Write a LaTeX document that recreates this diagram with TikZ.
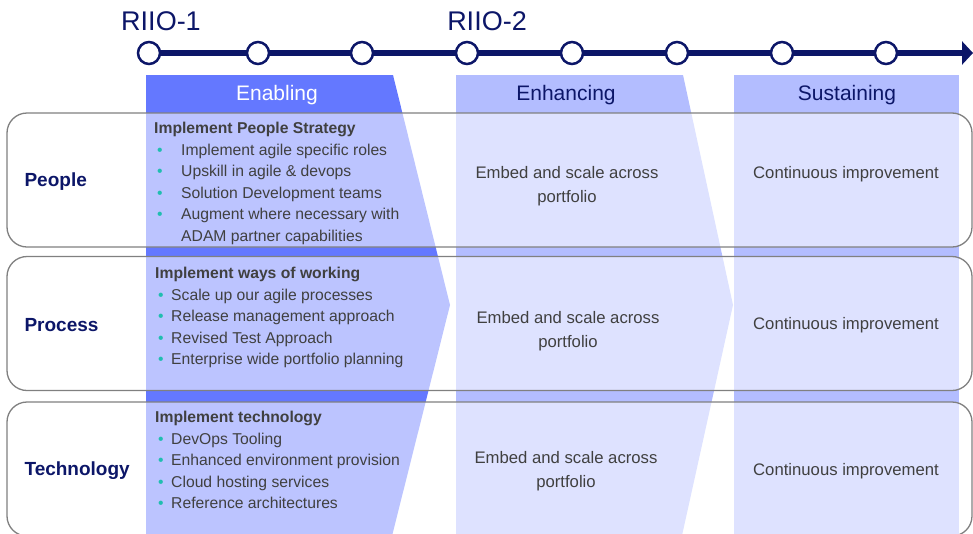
\documentclass[tikz,border=0pt]{standalone}
\usepackage{fontspec}
\setmainfont{Liberation Sans}
\usetikzlibrary{positioning,arrows.meta}

\definecolor{navy}{RGB}{12,22,104}
\definecolor{bandstrong}{RGB}{100,120,255}
\definecolor{bandsoft}{RGB}{179,189,255}
\definecolor{bodygrey}{RGB}{64,64,64}
\definecolor{rowline}{RGB}{128,128,128}
\definecolor{dotteal}{RGB}{32,190,176}

\newcommand{\dotitem}[1]{\makebox[#1][l]{{\color{dotteal}\textbullet}}}

\begin{document}
\begin{tikzpicture}[
        x=1pt, y=-1pt,
        tick/.style={
            circle,
            draw=navy,
            line width=2.5pt,
            fill=white,
            minimum size=22pt,
            inner sep=0pt
        },
        timeline/.style={
            line width=6pt,
            navy,
            -{Triangle[length=11pt, width=23pt]}
        },
        riio/.style={font=\fontsize{27}{30}\selectfont, text=navy},
        phase/.style={font=\fontsize{21}{24}\selectfont},
        rowbox/.style={
            rectangle,
            rounded corners=20pt,
            draw=rowline,
            line width=1.3pt,
            fill=white,
            fill opacity=0.57,
            minimum width=965pt,
            minimum height=134pt,
            inner sep=0pt
        },
        rowlabel/.style={
            font=\fontsize{19}{22}\selectfont\bfseries,
            text=navy,
            anchor=west,
            inner sep=0pt
        },
        plan/.style={
            font=\fontsize{15.7}{21.6}\selectfont,
            text=bodygrey,
            align=left,
            anchor=north west,
            inner sep=0pt
        },
        cell/.style={
            font=\fontsize{16.7}{24}\selectfont,
            text=bodygrey,
            align=center
        },
    ]

        \useasboundingbox (0,0) rectangle (973,533);

        % phase bands
        \fill[bandstrong] (146,75) -- (393,75) -- (450,305) -- (391,540) -- (146,540) -- cycle;
        \fill[bandsoft] (456,75) -- (683,75) -- (733,305) -- (681,540) -- (456,540) -- cycle;
        \fill[bandsoft] (734,75) rectangle (959,540);

        \node[phase, text=white] (enabling) at (277,95) {Enabling};
        \node[phase, text=navy] (enhancing) at (566,95) {Enhancing};
        \node[phase, text=navy] (sustaining) at (847,95) {Sustaining};

        % rows
        \node[rowbox] (people) at (489.5,180) {};
        \node[rowbox] (process) at (489.5,323.5) {};
        \node[rowbox] (technology) at (489.5,469) {};

        \node[rowlabel] at ([xshift=18pt,yshift=-2pt]people.west) {People};
        \node[rowlabel] at ([xshift=18pt,yshift=-2pt]process.west) {Process};
        \node[rowlabel] at ([xshift=18pt,yshift=-2pt]technology.west) {Technology};

        % enabling
        \node[plan] (peopleplan) at (154,122) {%
            \textbf{Implement People Strategy}\\
            \hspace*{3pt}\dotitem{24pt}Implement agile specific roles\\
            \hspace*{3pt}\dotitem{24pt}Upskill in agile \& devops\\
            \hspace*{3pt}\dotitem{24pt}Solution Development teams\\
            \hspace*{3pt}\dotitem{24pt}Augment where necessary with\\
            \hspace*{27pt}ADAM partner capabilities};
        \node[plan] (processplan) at (155,267) {%
            \textbf{Implement ways of working}\\
            \hspace*{3pt}\dotitem{13pt}Scale up our agile processes\\
            \hspace*{3pt}\dotitem{13pt}Release management approach\\
            \hspace*{3pt}\dotitem{13pt}Revised Test Approach\\
            \hspace*{3pt}\dotitem{13pt}Enterprise wide portfolio planning};
        \node[plan] (techplan) at (155,411) {%
            \textbf{Implement technology}\\
            \hspace*{3pt}\dotitem{13pt}DevOps Tooling\\
            \hspace*{3pt}\dotitem{13pt}Enhanced environment provision\\
            \hspace*{3pt}\dotitem{13pt}Cloud hosting services\\
            \hspace*{3pt}\dotitem{13pt}Reference architectures};

        % enhancing and sustaining
        \node[cell] (peopleembed) at (567,186.5) {Embed and scale across\\portfolio};
        \node[cell] (processembed) at (568,331) {Embed and scale across\\portfolio};
        \node[cell] (techembed) at (566,471.5) {Embed and scale across\\portfolio};

        \node[cell] (peoplecont) at (846,174) {Continuous improvement};
        \node[cell] (processcont) at (846,325) {Continuous improvement};
        \node[cell] (techcont) at (846,471) {Continuous improvement};

        % timeline
        \coordinate (start) at (149,53);
        \coordinate (tip) at (973,53);
        \draw[timeline] (start) -- (tip);
        \foreach \x [count=\i] in {149,258,362,467,572,677,782,886} {
            \node[tick] (t\i) at (\x,53) {};
        }

        \node[riio] (riio1) at (161,21) {RIIO-1};
        \node[riio] (riio2) at (487,21) {RIIO-2};

    \end{tikzpicture}
\end{document}
